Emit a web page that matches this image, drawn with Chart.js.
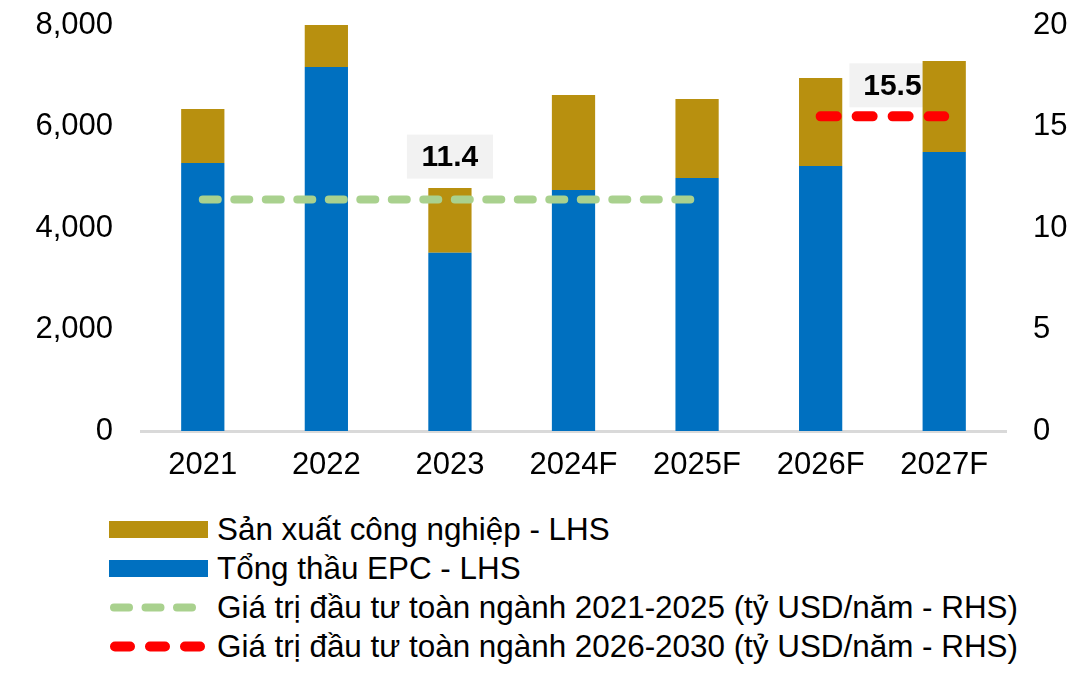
<!DOCTYPE html>
<html>
<head>
<meta charset="utf-8">
<script src="https://cdn.jsdelivr.net/npm/chart.js@4.4.0/dist/chart.umd.min.js"></script>
<style>
  body { margin: 0; background: #fff; font-family: "Liberation Sans", Arial, sans-serif; }
  #wrap { position: relative; width: 1090px; height: 676px; overflow: hidden; }
  #box { position: absolute; left: 0; top: 0; width: 1090px; height: 495px; }
  .leg { position: absolute; left: 109px; height: 39px; display: flex; align-items: center; font-size: 31.4px; color: #000; white-space: nowrap; }
  .leg .sw { width: 99px; height: 17px; margin-right: 9px; flex: none; }
</style>
</head>
<body>
<div id="wrap">
  <div id="box"><canvas id="chart"></canvas></div>
  <div id="legend"></div>
</div>
<script>
const categories = ['2021', '2022', '2023', '2024F', '2025F', '2026F', '2027F'];
const epc = [5280, 7170, 3510, 4750, 4985, 5220, 5500];
const sanXuat = [1065, 830, 1280, 1870, 1555, 1735, 1790];
const dauTu2125 = [11.4, 11.4, 11.4, 11.4, 11.4, null, null];
const dauTu2630 = [null, null, null, null, null, 15.5, 15.5];

const leftTicks = [0, 2000, 4000, 6000, 8000];
const rightTicks = [0, 5, 10, 15, 20];

const FONT = '"Liberation Sans", Arial, sans-serif';
const GOLD = '#B8900F';
const BLUE = '#0070C0';
const GREEN = '#A9D18E';
const RED = '#FF0000';

// o hop nhan gia tri tren duong ngang
const valueBoxes = {
  id: 'valueBoxes',
  beforeDatasetsDraw(chart) {
    const ctx = chart.ctx;
    const x = chart.scales.x;
    const y1 = chart.scales.y1;
    const items = [
      { v: dauTu2125[2], cx: x.getPixelForValue(2), dy: -43 },
      { v: dauTu2630[5], cx: (x.getPixelForValue(5) + x.getPixelForValue(6)) / 2 + 10, dy: -31 }
    ];
    ctx.save();
    items.forEach(it => {
      const cy = y1.getPixelForValue(it.v) + it.dy;
      ctx.fillStyle = '#F2F2F2';
      ctx.fillRect(it.cx - 43, cy - 22, 86, 44);
      ctx.fillStyle = '#000';
      ctx.font = 'bold 30px ' + FONT;
      ctx.textAlign = 'center';
      ctx.textBaseline = 'middle';
      ctx.fillText(it.v.toFixed(1), it.cx, cy + 1);
    });
    ctx.restore();
  }
};

const noPad = s => { s.paddingTop = 0; s.paddingBottom = 0; s.paddingLeft = 0; s.paddingRight = 0; };

new Chart(document.getElementById('chart'), {
  type: 'bar',
  data: {
    labels: categories,
    datasets: [
      {
        label: 'Tổng thầu EPC - LHS',
        data: epc,
        backgroundColor: BLUE,
        stack: 's',
        order: 2,
        barPercentage: 0.35,
        categoryPercentage: 1
      },
      {
        label: 'Sản xuất công nghiệp - LHS',
        data: sanXuat,
        backgroundColor: GOLD,
        stack: 's',
        order: 2,
        barPercentage: 0.35,
        categoryPercentage: 1
      },
      {
        type: 'line',
        label: 'Giá trị đầu tư toàn ngành 2021-2025 (tỷ USD/năm - RHS)',
        data: dauTu2125,
        yAxisID: 'y1',
        borderColor: GREEN,
        borderWidth: 8,
        borderDash: [15, 16.5],
        borderCapStyle: 'round',
        pointRadius: 0,
        fill: false,
        order: 0
      },
      {
        type: 'line',
        label: 'Giá trị đầu tư toàn ngành 2026-2030 (tỷ USD/năm - RHS)',
        data: dauTu2630,
        yAxisID: 'y1',
        borderColor: RED,
        borderWidth: 10,
        borderDash: [16, 20],
        borderCapStyle: 'round',
        pointRadius: 0,
        fill: false,
        order: 0
      }
    ]
  },
  options: {
    responsive: true,
    maintainAspectRatio: false,
    animation: false,
    devicePixelRatio: 1,
    layout: { padding: { left: 0, right: 0, top: 25, bottom: 0 } },
    plugins: {
      legend: { display: false },
      tooltip: { enabled: false }
    },
    scales: {
      x: {
        stacked: true,
        grid: { display: false, drawTicks: false },
        border: { display: true, color: '#D9D9D9', width: 3 },
        ticks: { color: '#000', font: { family: FONT, size: 31 }, padding: 16, maxRotation: 0 },
        afterFit: s => { noPad(s); s.height = 64; }
      },
      y: {
        stacked: true,
        min: 0,
        max: 8000,
        afterBuildTicks: s => { s.ticks = leftTicks.map(v => ({ value: v })); },
        grid: { display: false, drawTicks: false },
        border: { display: false },
        ticks: {
          color: '#000',
          font: { family: FONT, size: 31 },
          padding: 28,
          callback: v => v.toLocaleString('en-US')
        },
        afterFit: s => { noPad(s); s.width = 141; }
      },
      y1: {
        position: 'right',
        min: 0,
        max: 20,
        afterBuildTicks: s => { s.ticks = rightTicks.map(v => ({ value: v })); },
        grid: { display: false, drawTicks: false },
        border: { display: false },
        ticks: { color: '#000', font: { family: FONT, size: 31 }, padding: 27 },
        afterFit: s => { noPad(s); s.width = 84; }
      }
    }
  },
  plugins: [valueBoxes]
});

// Chu giai
const legendItems = [
  { text: 'Sản xuất công nghiệp - LHS', kind: 'box', color: GOLD },
  { text: 'Tổng thầu EPC - LHS', kind: 'box', color: BLUE },
  { text: 'Giá trị đầu tư toàn ngành 2021-2025 (tỷ USD/năm - RHS)', kind: 'dash', color: GREEN, w: 8, dash: '15 16.5' },
  { text: 'Giá trị đầu tư toàn ngành 2026-2030 (tỷ USD/năm - RHS)', kind: 'dash', color: RED, w: 10, dash: '15 20' }
];
const legend = document.getElementById('legend');
legendItems.forEach((it, i) => {
  const row = document.createElement('div');
  row.className = 'leg';
  row.style.top = (510 + i * 39) + 'px';
  let sw;
  if (it.kind === 'box') {
    sw = `<div class="sw" style="background:${it.color}"></div>`;
  } else {
    sw = `<svg class="sw" width="99" height="17" viewBox="0 0 99 17"><line x1="${it.w / 2 + 1}" y1="8.5" x2="99" y2="8.5" stroke="${it.color}" stroke-width="${it.w}" stroke-linecap="round" stroke-dasharray="${it.dash}"/></svg>`;
  }
  row.innerHTML = sw + `<span>${it.text}</span>`;
  legend.appendChild(row);
});
</script>
</body>
</html>
